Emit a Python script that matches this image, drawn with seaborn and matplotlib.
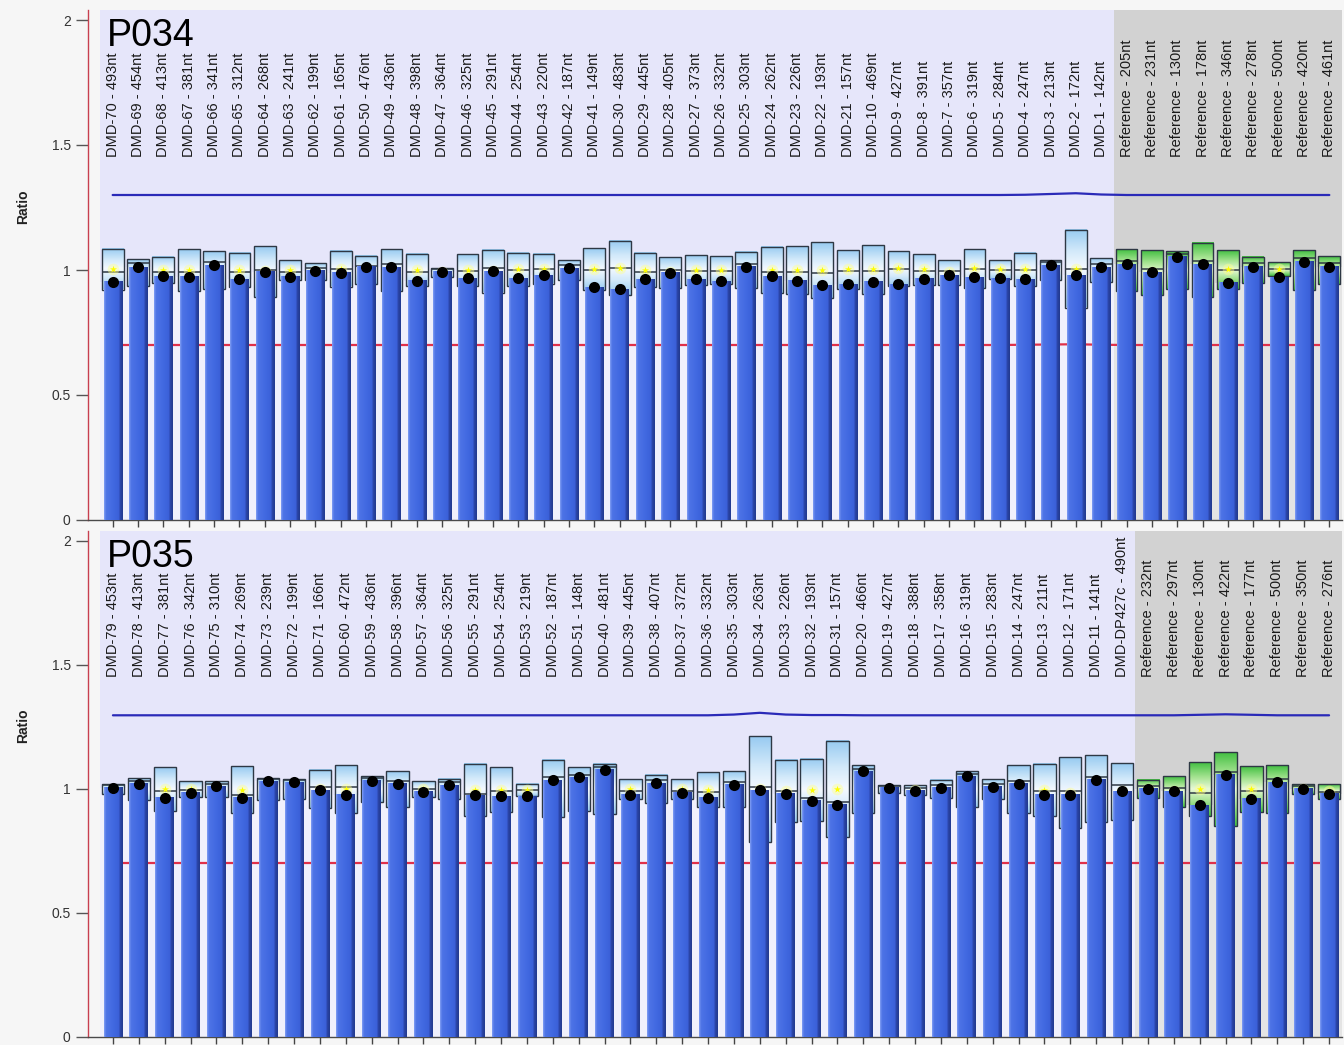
import numpy as np
import matplotlib
matplotlib.use("Agg")
import matplotlib.pyplot as plt
from matplotlib.colors import LinearSegmentedColormap
import seaborn as sns

# ---------------------------------------------------------------- P034 probes
P034_PROBES = [
    "DMD-70 - 493nt", "DMD-69 - 454nt", "DMD-68 - 413nt", "DMD-67 - 381nt", "DMD-66 - 341nt",
    "DMD-65 - 312nt", "DMD-64 - 268nt", "DMD-63 - 241nt", "DMD-62 - 199nt", "DMD-61 - 165nt",
    "DMD-50 - 476nt", "DMD-49 - 436nt", "DMD-48 - 398nt", "DMD-47 - 364nt", "DMD-46 - 325nt",
    "DMD-45 - 291nt", "DMD-44 - 254nt", "DMD-43 - 220nt", "DMD-42 - 187nt", "DMD-41 - 149nt",
    "DMD-30 - 483nt", "DMD-29 - 445nt", "DMD-28 - 405nt", "DMD-27 - 373nt", "DMD-26 - 332nt",
    "DMD-25 - 303nt", "DMD-24 - 262nt", "DMD-23 - 226nt", "DMD-22 - 193nt", "DMD-21 - 157nt",
    "DMD-10 - 469nt", "DMD-9 - 427nt", "DMD-8 - 391nt", "DMD-7 - 357nt", "DMD-6 - 319nt",
    "DMD-5 - 284nt", "DMD-4 - 247nt", "DMD-3 - 213nt", "DMD-2 - 172nt", "DMD-1 - 142nt",
    "Reference - 205nt", "Reference - 231nt", "Reference - 130nt", "Reference - 178nt",
    "Reference - 346nt", "Reference - 278nt", "Reference - 500nt", "Reference - 420nt",
    "Reference - 461nt",
]
P034_RATIO = [
    0.953, 1.011, 0.976, 0.973, 1.020, 0.963, 0.993, 0.973, 0.997, 0.989,
    1.013, 1.011, 0.957, 0.993, 0.967, 0.996, 0.967, 0.979, 1.007, 0.931,
    0.923, 0.963, 0.989, 0.963, 0.956, 1.013, 0.976, 0.957, 0.940, 0.944,
    0.953, 0.943, 0.965, 0.980, 0.971, 0.967, 0.963, 1.020, 0.980, 1.011,
    1.023, 0.991, 1.053, 1.024, 0.949, 1.013, 0.971, 1.033, 1.013,
]
P034_REF_UPPER = [
    1.084, 1.043, 1.053, 1.084, 1.076, 1.069, 1.097, 1.040, 1.029, 1.076,
    1.057, 1.084, 1.065, 1.008, 1.064, 1.080, 1.069, 1.064, 1.040, 1.089,
    1.117, 1.069, 1.051, 1.060, 1.056, 1.073, 1.093, 1.096, 1.112, 1.080,
    1.100, 1.076, 1.064, 1.040, 1.084, 1.040, 1.069, 1.040, 1.160, 1.047,
    1.084, 1.080, 1.076, 1.109, 1.080, 1.053, 1.033, 1.080, 1.056,
]
P034_REF_MEAN = [
    1.003, 0.990, 1.000, 1.000, 1.000, 1.000, 0.995, 1.000, 0.995, 1.005,
    1.000, 1.000, 1.000, 0.990, 1.000, 0.995, 1.002, 1.005, 1.000, 1.005,
    1.008, 1.000, 0.990, 1.000, 1.000, 1.000, 1.000, 1.000, 1.000, 1.002,
    1.002, 1.006, 1.002, 0.990, 1.006, 1.002, 1.002, 1.000, 1.005, 1.000,
    1.000, 0.990, 1.000, 1.000, 1.002, 1.000, 1.005, 1.000, 1.000,
]
P034_INNER = [
    0.990, 1.027, 0.993, 0.993, 1.030, 0.991, 1.000, 0.991, 1.008, 1.003,
    1.017, 1.025, 0.993, 1.004, 0.997, 1.008, 1.000, 1.003, 1.020, 1.000,
    1.007, 0.993, 1.000, 0.997, 0.997, 1.025, 0.993, 0.993, 0.987, 0.997,
    0.996, 1.004, 0.996, 0.995, 1.004, 1.000, 1.000, 1.032, 1.003, 1.025,
    1.036, 1.005, 1.063, 1.037, 1.000, 1.026, 1.004, 1.046, 1.026,
]
P034_UPPER_LIMIT = [
    1.300, 1.300, 1.300, 1.300, 1.300, 1.300, 1.300, 1.300, 1.300, 1.300,
    1.300, 1.300, 1.300, 1.300, 1.300, 1.300, 1.300, 1.300, 1.300, 1.300,
    1.300, 1.300, 1.300, 1.300, 1.300, 1.300, 1.300, 1.300, 1.300, 1.300,
    1.300, 1.300, 1.300, 1.300, 1.300, 1.300, 1.301, 1.304, 1.307, 1.302,
    1.300, 1.300, 1.300, 1.300, 1.300, 1.300, 1.300, 1.300, 1.300,
]
P034_LOWER_LIMIT = [
    0.700, 0.700, 0.700, 0.700, 0.700, 0.700, 0.700, 0.700, 0.700, 0.700,
    0.700, 0.700, 0.700, 0.700, 0.700, 0.700, 0.700, 0.700, 0.700, 0.700,
    0.700, 0.700, 0.700, 0.700, 0.700, 0.700, 0.700, 0.700, 0.700, 0.700,
    0.700, 0.700, 0.700, 0.700, 0.700, 0.700, 0.701, 0.702, 0.703, 0.701,
    0.700, 0.700, 0.700, 0.700, 0.700, 0.700, 0.700, 0.700, 0.700,
]

# ---------------------------------------------------------------- P035 probes
P035_PROBES = [
    "DMD-79 - 453nt", "DMD-78 - 413nt", "DMD-77 - 381nt", "DMD-76 - 342nt", "DMD-75 - 310nt",
    "DMD-74 - 269nt", "DMD-73 - 239nt", "DMD-72 - 199nt", "DMD-71 - 166nt", "DMD-60 - 472nt",
    "DMD-59 - 436nt", "DMD-58 - 396nt", "DMD-57 - 364nt", "DMD-56 - 325nt", "DMD-55 - 291nt",
    "DMD-54 - 254nt", "DMD-53 - 219nt", "DMD-52 - 187nt", "DMD-51 - 148nt", "DMD-40 - 481nt",
    "DMD-39 - 445nt", "DMD-38 - 407nt", "DMD-37 - 372nt", "DMD-36 - 332nt", "DMD-35 - 303nt",
    "DMD-34 - 263nt", "DMD-33 - 226nt", "DMD-32 - 193nt", "DMD-31 - 157nt", "DMD-20 - 466nt",
    "DMD-19 - 427nt", "DMD-18 - 388nt", "DMD-17 - 358nt", "DMD-16 - 319nt", "DMD-15 - 283nt",
    "DMD-14 - 247nt", "DMD-13 - 211nt", "DMD-12 - 171nt", "DMD-11 - 141nt", "DMD-DP427c - 490nt",
    "Reference - 232nt", "Reference - 297nt", "Reference - 130nt", "Reference - 422nt",
    "Reference - 177nt", "Reference - 500nt", "Reference - 350nt", "Reference - 276nt",
]
P035_RATIO = [
    1.004, 1.020, 0.964, 0.984, 1.011, 0.964, 1.031, 1.027, 0.995, 0.977,
    1.034, 1.022, 0.988, 1.015, 0.975, 0.971, 0.971, 1.035, 1.047, 1.078,
    0.977, 1.024, 0.984, 0.964, 1.017, 0.995, 0.981, 0.953, 0.937, 1.071,
    1.004, 0.993, 1.004, 1.051, 1.008, 1.022, 0.977, 0.977, 1.038, 0.991,
    1.000, 0.991, 0.934, 1.058, 0.960, 1.028, 1.001, 0.980,
]
P035_REF_UPPER = [
    1.020, 1.044, 1.087, 1.031, 1.031, 1.091, 1.044, 1.040, 1.078, 1.095,
    1.051, 1.071, 1.031, 1.042, 1.102, 1.087, 1.020, 1.115, 1.087, 1.102,
    1.040, 1.058, 1.040, 1.067, 1.071, 1.212, 1.115, 1.122, 1.195, 1.095,
    1.015, 1.015, 1.038, 1.071, 1.040, 1.095, 1.102, 1.127, 1.135, 1.104,
    1.038, 1.051, 1.108, 1.149, 1.091, 1.095, 1.020, 1.020,
]
P035_REF_MEAN = [
    1.000, 1.000, 1.000, 1.000, 1.000, 0.997, 1.000, 1.000, 1.000, 1.000,
    1.000, 1.000, 1.000, 1.000, 0.997, 0.997, 0.995, 1.000, 1.000, 1.000,
    1.000, 1.000, 1.000, 0.997, 1.000, 1.000, 0.990, 0.997, 1.000, 1.000,
    1.000, 0.995, 1.000, 1.000, 1.000, 1.000, 0.997, 0.985, 1.000, 0.990,
    1.000, 0.990, 1.000, 1.000, 1.000, 1.000, 1.000, 0.990,
]
P035_INNER = [
    1.015, 1.032, 0.991, 0.996, 1.022, 0.977, 1.042, 1.038, 1.006, 1.007,
    1.045, 1.034, 0.998, 1.027, 0.980, 0.991, 0.997, 1.047, 1.058, 1.089,
    0.990, 1.035, 0.991, 0.987, 1.029, 1.006, 0.993, 0.964, 0.948, 1.082,
    1.012, 1.004, 1.015, 1.062, 1.020, 1.033, 0.990, 0.990, 1.050, 1.017,
    1.012, 1.003, 0.984, 1.070, 0.990, 1.040, 1.012, 0.988,
]
P035_UPPER_LIMIT = [
    1.297, 1.297, 1.297, 1.297, 1.297, 1.297, 1.297, 1.297, 1.297, 1.297,
    1.297, 1.297, 1.297, 1.297, 1.297, 1.297, 1.297, 1.297, 1.297, 1.297,
    1.297, 1.297, 1.297, 1.297, 1.300, 1.307, 1.300, 1.298, 1.298, 1.297,
    1.297, 1.297, 1.297, 1.297, 1.297, 1.297, 1.297, 1.297, 1.297, 1.297,
    1.297, 1.297, 1.299, 1.301, 1.299, 1.297, 1.297, 1.297,
]
P035_LOWER_LIMIT = [
    0.700, 0.700, 0.700, 0.700, 0.700, 0.700, 0.700, 0.700, 0.700, 0.700,
    0.700, 0.700, 0.700, 0.700, 0.700, 0.700, 0.700, 0.700, 0.700, 0.700,
    0.700, 0.700, 0.700, 0.700, 0.700, 0.700, 0.700, 0.700, 0.700, 0.700,
    0.700, 0.700, 0.700, 0.700, 0.700, 0.700, 0.700, 0.700, 0.700, 0.700,
    0.700, 0.700, 0.700, 0.700, 0.700, 0.700, 0.700, 0.700,
]

Y_TICKS = [0, 0.5, 1, 1.5, 2]
Y_TICK_LABELS = ["0", "0.5", "1", "1.5", "2"]

# ---------------------------------------------------------------- styling
sns.set_theme(style="white")
plt.rcParams["font.family"] = ["Liberation Sans", "DejaVu Sans"]

FIG_BG = "#F6F6F6"
TARGET_BG = "#E6E6FA"
REF_BG = "#D2D2D2"

BAR_CMAP = LinearSegmentedColormap.from_list(
    "bar", [(0.0, "#7F9CF2"), (0.10, "#4E74E6"), (0.50, "#4169E1"),
            (0.80, "#3B60D8"), (0.86, "#2B45A8"), (1.0, "#233A90")])
BOX_BLUE = LinearSegmentedColormap.from_list(
    "boxblue", [(0.0, "#F4F9FF"), (0.45, "#D2E9FA"), (1.0, "#98CBF1")])
BOX_GREEN = LinearSegmentedColormap.from_list(
    "boxgreen", [(0.0, "#E9F9D8"), (0.45, "#A5E391"), (1.0, "#43C043")])

FIG_W, FIG_H = 1344, 1045
AX_LEFT_PX, AX_RIGHT_PX = 88, 1342
PAD_PX = 12          # gap between the y-axis line and the first probe slot

fig = plt.figure(figsize=(FIG_W / 100, FIG_H / 100), dpi=100, facecolor=FIG_BG)


def add_panel(top_px, bottom_px):
    return fig.add_axes([AX_LEFT_PX / FIG_W, 1 - bottom_px / FIG_H,
                         (AX_RIGHT_PX - AX_LEFT_PX) / FIG_W,
                         (bottom_px - top_px) / FIG_H])


def draw_panel(ax, title, probes, ratio, ref_upper, ref_mean, inner,
               upper_limit, lower_limit):
    n = len(probes)
    x = np.arange(n)
    ratio = np.asarray(ratio)
    upper = np.asarray(ref_upper)
    mean = np.asarray(ref_mean)
    lower = 2 * mean - upper
    is_ref = np.array([p.startswith("Reference") for p in probes])
    n_target = int((~is_ref).sum())

    pitch = (AX_RIGHT_PX - AX_LEFT_PX - PAD_PX) / n
    x_left = -0.5 - PAD_PX / pitch
    y_top = 2.04

    ax.set_facecolor(FIG_BG)
    ax.axvspan(-0.5, n_target - 0.5, color=TARGET_BG, lw=0, zorder=0.2)
    ax.axvspan(n_target - 0.5, n - 0.5, color=REF_BG, lw=0, zorder=0.2)

    # soft halo behind each ratio bar
    ax.bar(x, ratio, width=1.0, color="white", alpha=0.42, lw=0, zorder=1)

    # lower threshold, drawn behind the bars
    sns.lineplot(x=x, y=lower_limit, ax=ax, color="#E0304A", lw=1.6, zorder=1.5)

    # reference range boxes with a glow towards the reference mean
    box_w = 0.86
    grad = np.abs(np.linspace(-1, 1, 64))[:, None]
    for i in range(n):
        ax.imshow(grad, extent=[i - box_w / 2, i + box_w / 2, lower[i], upper[i]],
                  origin="lower", cmap=BOX_GREEN if is_ref[i] else BOX_BLUE,
                  vmin=0, vmax=1, aspect="auto", interpolation="bilinear", zorder=2)
    ax.bar(x, upper - lower, bottom=lower, width=box_w, facecolor="none",
           edgecolor="#2E3844", lw=1.0, zorder=2.3)
    ax.hlines(inner, x - box_w / 2, x + box_w / 2, color="#2E3844", lw=1.1, zorder=2.35)
    ax.scatter(x, mean, s=70, color="#FFFF90", alpha=0.45, linewidths=0, zorder=2.4)
    ax.scatter(x, mean, s=28, marker="*", color="#FFFF00", linewidths=0, zorder=2.45)

    # ratio bars with a shaded face
    sns.barplot(x=x, y=ratio, ax=ax, width=0.72, color="#4169E1", saturation=1,
                errorbar=None, linewidth=0, zorder=3)
    bars = ax.containers[-1]
    hgrad = np.linspace(0, 1, 40)[None, :]
    for rect in bars:
        x0, w, h = rect.get_x(), rect.get_width(), rect.get_height()
        ax.imshow(hgrad, extent=[x0, x0 + w, 0, h], origin="lower", cmap=BAR_CMAP,
                  vmin=0, vmax=1, aspect="auto", interpolation="bilinear", zorder=3.1)

    # upper threshold line
    sns.lineplot(x=x, y=upper_limit, ax=ax, color="#2A2AB8", lw=1.6, zorder=3.5)

    # sample ratio points
    sns.scatterplot(x=x, y=ratio, ax=ax, color="black", s=64, linewidth=0,
                    zorder=4, legend=False)

    # probe names
    label_y = 1.453
    for i, name in enumerate(probes):
        ax.text(i, label_y, name, rotation=90, ha="center", va="bottom",
                fontsize=10.5, color="#1A1A1A", zorder=5)

    ax.text((107 - AX_LEFT_PX) / (AX_RIGHT_PX - AX_LEFT_PX), 1.896, title,
            transform=ax.get_yaxis_transform(), fontsize=27, color="black",
            ha="left", va="baseline", zorder=5)

    # axes
    ax.set_xlim(x_left, n - 0.5)
    ax.set_ylim(0, y_top)
    ax.set_xticks(x)
    ax.set_xticklabels([])
    ax.set_yticks(Y_TICKS)
    ax.set_yticklabels(Y_TICK_LABELS)
    ax.tick_params(axis="y", direction="out", length=8.5, width=1, color="#555555",
                   labelsize=10, labelcolor="#333333", pad=4, left=True)
    ax.tick_params(axis="x", direction="out", length=5, width=1, color="#444444",
                   bottom=True, labelbottom=False)
    ax.set_xlabel("")
    ax.set_ylabel("Ratio", fontsize=10, fontweight="bold", color="#222222")
    ax.yaxis.set_label_coords(-0.046, 1.255 / y_top)
    for side in ("top", "right"):
        ax.spines[side].set_visible(False)
    ax.spines["left"].set_color("#C8404F")
    ax.spines["left"].set_linewidth(1.0)
    ax.spines["bottom"].set_color("#4A4A4A")
    ax.spines["bottom"].set_linewidth(1.0)
    ax.grid(False)


ax_top = add_panel(10, 520)
ax_bot = add_panel(531, 1037)

draw_panel(ax_top, "P034", P034_PROBES, P034_RATIO, P034_REF_UPPER, P034_REF_MEAN,
           P034_INNER, P034_UPPER_LIMIT, P034_LOWER_LIMIT)
draw_panel(ax_bot, "P035", P035_PROBES, P035_RATIO, P035_REF_UPPER, P035_REF_MEAN,
           P035_INNER, P035_UPPER_LIMIT, P035_LOWER_LIMIT)

fig.savefig("out.png", dpi=100, facecolor=FIG_BG)
